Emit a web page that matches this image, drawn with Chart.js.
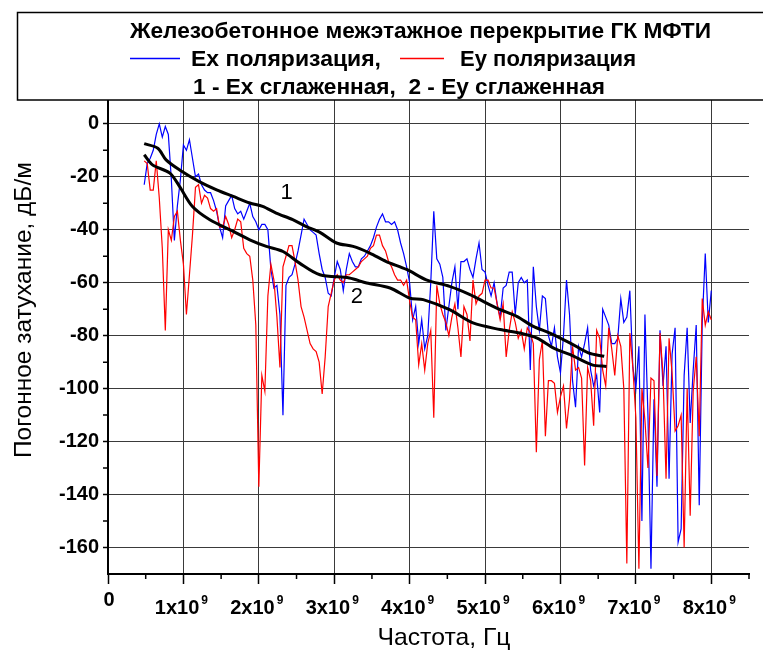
<!DOCTYPE html>
<html>
<head>
<meta charset="utf-8">
<script src="https://cdn.jsdelivr.net/npm/chart.js@4.4.0/dist/chart.umd.min.js"></script>
<style>
  html, body { margin: 0; padding: 0; background: #fff; }
</style>
</head>
<body>
<canvas id="attChart" width="763" height="657"></canvas>
<script>
// frequency grid of the measured traces, GHz
var freqGHz = [
    0.48, 0.52, 0.56, 0.60, 0.64, 0.68, 0.72, 0.76, 0.80, 0.84,
    0.88, 0.92, 0.96, 1.00, 1.04, 1.08, 1.12, 1.16, 1.20, 1.24,
    1.28, 1.32, 1.36, 1.40, 1.44, 1.48, 1.52, 1.56, 1.60, 1.64,
    1.68, 1.72, 1.76, 1.80, 1.84, 1.88, 1.92, 1.96, 2.00, 2.04,
    2.08, 2.12, 2.16, 2.20, 2.24, 2.28, 2.32, 2.36, 2.40, 2.44,
    2.48, 2.52, 2.56, 2.60, 2.64, 2.68, 2.72, 2.76, 2.80, 2.84,
    2.88, 2.92, 2.96, 3.00, 3.04, 3.08, 3.12, 3.16, 3.20, 3.24,
    3.28, 3.32, 3.36, 3.40, 3.44, 3.48, 3.52, 3.56, 3.60, 3.64,
    3.68, 3.72, 3.76, 3.80, 3.84, 3.88, 3.92, 3.96, 4.00, 4.04,
    4.08, 4.12, 4.16, 4.20, 4.24, 4.28, 4.32, 4.36, 4.40, 4.44,
    4.48, 4.52, 4.56, 4.60, 4.64, 4.68, 4.72, 4.76, 4.80, 4.84,
    4.88, 4.92, 4.96, 5.00, 5.04, 5.08, 5.12, 5.16, 5.20, 5.24,
    5.28, 5.32, 5.36, 5.40, 5.44, 5.48, 5.52, 5.56, 5.60, 5.64,
    5.68, 5.72, 5.76, 5.80, 5.84, 5.88, 5.92, 5.96, 6.00, 6.04,
    6.08, 6.12, 6.16, 6.20, 6.24, 6.28, 6.32, 6.36, 6.40, 6.44,
    6.48, 6.52, 6.56, 6.60, 6.64, 6.68, 6.72, 6.76, 6.80, 6.84,
    6.88, 6.92, 6.96, 7.00, 7.04, 7.08, 7.12, 7.16, 7.20, 7.24,
    7.28, 7.32, 7.36, 7.40, 7.44, 7.48, 7.52, 7.56, 7.60, 7.64,
    7.68, 7.72, 7.76, 7.80, 7.84, 7.88, 7.92, 7.96, 8.00
];

// Ex polarisation, dB/m (blue)
var exLoss = [
    -23, -15, -13, -10, -4, 0, -5, -1, -4, -21,
    -44, -31, -21, -8, -10, -6, -13, -20, -19, -23,
    -25, -26, -26, -29, -33, -39, -43, -31, -29, -27,
    -32, -34, -33, -36, -33, -30, -35, -37, -40, -38,
    -38, -40, -55, -62, -61, -72, -110, -61, -58, -57,
    -53, -48, -42, -36, -38, -40, -41, -42, -49, -55,
    -58, -64, -65, -58, -52, -55, -63, -55, -49, -52,
    -54, -54, -51, -50, -48, -46, -43, -39, -36, -34,
    -37, -37, -38, -37, -40, -45, -49, -54, -60, -74,
    -69, -83, -74, -85, -80, -60, -33, -51, -53, -58,
    -78, -69, -60, -54, -70, -52, -52, -51, -55, -58,
    -51, -45, -55, -56, -61, -65, -60, -68, -73, -62,
    -61, -56, -56, -72, -60, -58, -60, -59, -93, -54,
    -69, -78, -65, -66, -80, -84, -77, -88, -94, -80,
    -59, -72, -97, -107, -84, -88, -83, -77, -93, -99,
    -95, -109, -70, -73, -76, -83, -83, -81, -66, -75,
    -73, -63, -92, -100, -84, -150, -72, -110, -168, -104,
    -137, -78, -99, -84, -134, -87, -77, -158, -153, -95,
    -77, -113, -93, -76, -144, -75, -49, -75, -63
];

// Ey polarisation, dB/m (red)
var eyLoss = [
    -14, -15, -25, -25, -14, -28, -47, -78, -40, -44,
    -35, -33, -44, -53, -72, -57, -42, -24, -23, -30,
    -27, -28, -32, -33, -32, -39, -39, -35, -38, -43,
    -40, -36, -37, -47, -49, -50, -59, -76, -137, -95,
    -101, -65, -53, -59, -73, -92, -54, -50, -46, -46,
    -52, -59, -69, -73, -78, -83, -85, -86, -90, -102,
    -88, -69, -64, -59, -57, -59, -60, -57, -57, -56,
    -55, -54, -52, -51, -50, -47, -46, -42, -42, -46,
    -48, -52, -54, -57, -59, -59, -61, -59, -67, -73,
    -74, -91, -83, -93, -83, -78, -111, -61, -68, -72,
    -75, -80, -73, -68, -77, -88, -69, -72, -82, -59,
    -68, -65, -64, -59, -59, -62, -62, -68, -74, -68,
    -88, -78, -71, -75, -81, -78, -85, -77, -79, -83,
    -124, -89, -82, -118, -97, -97, -98, -109, -103, -99,
    -115, -104, -84, -93, -92, -96, -129, -92, -97, -114,
    -78, -81, -93, -99, -77, -85, -95, -80, -84, -100,
    -166, -79, -92, -111, -168, -100, -112, -130, -96, -97,
    -133, -79, -95, -134, -81, -94, -116, -114, -110, -160,
    -100, -148, -101, -88, -118, -66, -76, -71, -74
];

// smoothed curves (1 - Ex, 2 - Ey)
var exSmoothFreq = [0.48, 0.66, 0.77, 0.95, 1.21, 1.44, 1.66, 1.88, 2.05, 2.23, 2.45, 2.63, 2.81, 3.03, 3.25, 3.47, 3.69, 3.96, 4.22, 4.53, 4.80, 5.02, 5.20, 5.42, 5.64, 5.86, 6.13, 6.37, 6.58];
var exSmoothLoss = [-7.5, -9.2, -13.6, -17.4, -21.8, -24.9, -27.4, -29.9, -31.2, -33.7, -36.2, -38.8, -41, -45, -46.3, -48.8, -52, -55, -58.9, -61.4, -64.5, -67.7, -70.2, -72.7, -76.5, -79, -82.8, -86.5, -87.8];
var eySmoothFreq = [0.48, 0.59, 0.82, 0.95, 1.12, 1.35, 1.66, 1.88, 2.10, 2.32, 2.54, 2.81, 3.20, 3.43, 3.74, 4.00, 4.18, 4.53, 4.84, 5.20, 5.46, 5.69, 5.91, 6.13, 6.42, 6.61];
var eySmoothLoss = [-11.7, -15.5, -18.6, -23.7, -31.2, -36.2, -40.6, -43.8, -46.3, -48.2, -52.6, -57, -58.2, -60.1, -62, -65.8, -66.4, -70.2, -75.2, -77.7, -79, -80.9, -84.7, -87.2, -91, -91.6];

// axis ticks
var xTicks = [0, 1e9, 2e9, 3e9, 4e9, 5e9, 6e9, 7e9, 8e9];
var xMinorTicks = [0.5e9, 1.5e9, 2.5e9, 3.5e9, 4.5e9, 5.5e9, 6.5e9, 7.5e9, 8.5e9];
var yTicks = [-160, -140, -120, -100, -80, -60, -40, -20, 0];
var yMinorTicks = [-150, -130, -110, -90, -70, -50, -30, -10];

// texts
var titleText = 'Железобетонное межэтажное перекрытие ГК МФТИ';
var exLabel = 'Ex поляризация,';
var eyLabel = 'Ey поляризация';
var smoothLabel = '1 - Ex сглаженная,  2 - Ey сглаженная';
var xTitle = 'Частота, Гц';
var yTitle = 'Погонное затухание, дБ/м';
var curveLabels = [
    { text: '1', freq: 2.37e9, loss: -26 },
    { text: '2', freq: 3.30e9, loss: -65.3 }
];

var FAMILY = "'Liberation Sans', Arial, sans-serif";
function bold(size) { return 'bold ' + size + 'px ' + FAMILY; }
function plain(size) { return size + 'px ' + FAMILY; }

function toPoints(freqs, values) {
    return freqs.map(function (f, i) { return { x: f * 1e9, y: values[i] }; });
}

// draw text stretched to a given width
function fitText(ctx, text, x, y, width, font, align) {
    ctx.save();
    ctx.font = font;
    var m = ctx.measureText(text).width;
    ctx.translate(x, y);
    ctx.scale(width / m, 1);
    ctx.textAlign = 'left';
    ctx.fillText(text, align === 'center' ? -m / 2 : 0, 0);
    ctx.restore();
}

var decorPlugin = {
    id: 'decor',
    afterDraw: function (chart) {
        var ctx = chart.ctx;
        var xs = chart.scales.x, ys = chart.scales.y, area = chart.chartArea;
        ctx.save();

        // minor ticks
        ctx.strokeStyle = '#000';
        ctx.lineWidth = 1.5;
        ctx.beginPath();
        yMinorTicks.forEach(function (v) {
            var py = ys.getPixelForValue(v);
            ctx.moveTo(area.left - 5, py);
            ctx.lineTo(area.left, py);
        });
        xMinorTicks.forEach(function (v) {
            var px = xs.getPixelForValue(v);
            ctx.moveTo(px, area.bottom);
            ctx.lineTo(px, area.bottom + 5);
        });
        ctx.stroke();

        // x tick labels with superscript
        ctx.fillStyle = '#000';
        ctx.textBaseline = 'alphabetic';
        xTicks.forEach(function (v) {
            var px = xs.getPixelForValue(v);
            var n = v / 1e9;
            if (n === 0) {
                ctx.font = bold(20);
                ctx.textAlign = 'center';
                ctx.fillText('0', px + 1, 606);
                return;
            }
            var main = n + 'x10';
            ctx.font = bold(20);
            var w1 = ctx.measureText(main).width;
            ctx.font = bold(12);
            var w2 = ctx.measureText('9').width;
            var left = px - (w1 + 2 + w2) / 2 - 2;
            ctx.textAlign = 'left';
            ctx.font = bold(20);
            ctx.fillText(main, left, 614);
            ctx.font = bold(12);
            ctx.fillText('9', left + w1 + 2, 604);
        });

        // axis titles
        fitText(ctx, xTitle, 444, 645, 133, plain(24), 'center');
        ctx.save();
        ctx.translate(31, 310);
        ctx.rotate(-Math.PI / 2);
        fitText(ctx, yTitle, 0, 0, 296, plain(24), 'center');
        ctx.restore();

        // curve numbers
        ctx.font = plain(22);
        ctx.textAlign = 'center';
        ctx.textBaseline = 'middle';
        curveLabels.forEach(function (c) {
            ctx.fillText(c.text, xs.getPixelForValue(c.freq), ys.getPixelForValue(c.loss));
        });

        // legend box
        ctx.fillStyle = '#fff';
        ctx.fillRect(17, 12, 760, 88);
        ctx.strokeStyle = '#000';
        ctx.lineWidth = 1.5;
        ctx.strokeRect(17.5, 12.5, 800, 87.5);
        ctx.fillStyle = '#000';
        ctx.textBaseline = 'alphabetic';
        fitText(ctx, titleText, 130, 38, 581, bold(22));
        fitText(ctx, exLabel, 191, 66, 190, bold(22));
        fitText(ctx, eyLabel, 460, 66, 176, bold(22));
        fitText(ctx, smoothLabel, 193, 94, 412, bold(22));
        ctx.lineWidth = 1.5;
        ctx.strokeStyle = '#0000ff';
        ctx.beginPath(); ctx.moveTo(130, 58.5); ctx.lineTo(180, 58.5); ctx.stroke();
        ctx.strokeStyle = '#ff0000';
        ctx.beginPath(); ctx.moveTo(400, 58.5); ctx.lineTo(444, 58.5); ctx.stroke();

        ctx.restore();
    }
};

var ctx = document.getElementById('attChart').getContext('2d');
new Chart(ctx, {
    type: 'line',
    data: {
        datasets: [{
            label: '1 - Ex сглаженная',
            data: toPoints(exSmoothFreq, exSmoothLoss),
            borderColor: '#000',
            borderWidth: 3,
            pointRadius: 0,
            tension: 0.3,
            order: 0
        }, {
            label: '2 - Ey сглаженная',
            data: toPoints(eySmoothFreq, eySmoothLoss),
            borderColor: '#000',
            borderWidth: 3,
            pointRadius: 0,
            tension: 0.3,
            order: 0
        }, {
            label: eyLabel,
            data: toPoints(freqGHz, eyLoss),
            borderColor: '#ff0000',
            borderWidth: 1.2,
            pointRadius: 0,
            tension: 0,
            order: 1
        }, {
            label: exLabel,
            data: toPoints(freqGHz, exLoss),
            borderColor: '#0000ff',
            borderWidth: 1.2,
            pointRadius: 0,
            tension: 0,
            order: 2
        }]
    },
    options: {
        responsive: false,
        animation: false,
        events: [],
        layout: { padding: { top: 100, right: 14, left: 0, bottom: 0 } },
        plugins: {
            legend: { display: false },
            tooltip: { enabled: false }
        },
        scales: {
            x: {
                type: 'linear',
                min: 0,
                max: 8.5e9,
                afterBuildTicks: function (s) { s.ticks = xTicks.map(function (v) { return { value: v }; }); },
                afterFit: function (s) { s.height = 83; },
                ticks: { display: false },
                grid: { color: '#3a3a3a', lineWidth: 1, tickLength: 10, tickColor: '#000', tickWidth: 1.5 },
                border: { color: '#000', width: 2 }
            },
            y: {
                type: 'linear',
                min: -170,
                max: 9,
                afterBuildTicks: function (s) { s.ticks = yTicks.map(function (v) { return { value: v }; }); },
                afterFit: function (s) { s.width = 108; },
                ticks: {
                    color: '#000',
                    padding: 4,
                    font: { family: FAMILY, weight: 'bold', size: 20 },
                    callback: function (v) { return String(v); }
                },
                grid: { color: '#3a3a3a', lineWidth: 1, tickLength: 5, tickColor: '#000', tickWidth: 1.5 },
                border: { color: '#000', width: 2 }
            }
        }
    },
    plugins: [decorPlugin]
});
</script>
</body>
</html>
